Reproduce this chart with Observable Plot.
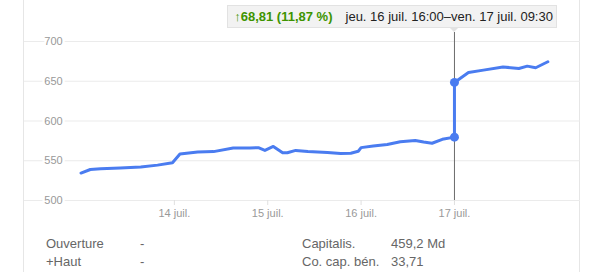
<!DOCTYPE html>
<html>
<head>
<meta charset="utf-8">
<script src="https://cdn.jsdelivr.net/npm/d3@7"></script>
<script src="https://cdn.jsdelivr.net/npm/@observablehq/plot@0.6"></script>
<style>
  html, body { margin: 0; padding: 0; background: #fff; }
  body { font-family: Arial, "Liberation Sans", sans-serif; }
  #wrap { position: relative; width: 604px; height: 272px; overflow: hidden; }
  #box { position: absolute; left: 23px; width: 555px; top: 0; height: 272px;
         border-left: 1px solid #e6e6e6; border-right: 1px solid #e6e6e6; }
  #chart { position: absolute; left: 0; top: 0; }
  #tip { position: absolute; top: 5px; height: 21px; background: #f2f2f2;
         border: 1px solid #e2e2e2; font-size: 13px; line-height: 21px; white-space: nowrap;
         box-sizing: content-box; }
  #tip .chg { color: #3d9400; font-weight: bold; }
  #tip .per { color: #222; margin-left: 13px; }
  #ptr { position: absolute; top: 27px; width: 0; height: 0;
         border-left: 5px solid transparent; border-right: 5px solid transparent;
         border-top: 5px solid #e2e2e2; }
  .cell { position: absolute; font-size: 13px; line-height: 18px; color: #666; white-space: nowrap; }
</style>
</head>
<body>
<div id="wrap">
  <div id="box"></div>
  <div id="chart"></div>
</div>
<script>
// ---- data ----
const days = [13.0, 13.10, 13.21, 13.42, 13.64, 13.82, 13.98, 14.06, 14.25, 14.42, 14.63, 14.81, 14.90, 14.97,
              15.06, 15.16, 15.21, 15.30, 15.43, 15.64, 15.78, 15.89, 15.97, 16.0, 16.13, 16.28, 16.42,
              16.58, 16.67, 16.76, 16.87, 17.0, 17.0, 17.15, 17.31, 17.52, 17.69, 17.78, 17.87, 18.0];
const prices = [534.5, 539, 540, 541, 542, 544.5, 547.5, 558.5, 561, 561.5, 566, 566, 566.5, 563,
                568, 560, 560, 563, 561.5, 560.5, 559, 559.5, 562, 566.5, 568.5, 570.5, 574,
                575.5, 573.5, 572, 577, 579.7, 648.5, 661, 664, 668, 666, 669, 667, 674.5];
const xTicks = [14, 15, 16, 17];
const xTickLabels = ["14 juil.", "15 juil.", "16 juil.", "17 juil."];
const yTicks = [500, 550, 600, 650, 700];
const hoverDay = 17;
const tipChange = "\u219168,81 (11,87 %)";
const tipPeriod = "jeu. 16 juil. 16:00\u2013ven. 17 juil. 09:30";
const statLabels1 = ["Ouverture", "+Haut"];
const statValues1 = ["-", "-"];
const statLabels2 = ["Capitalis.", "Co. cap. b\u00e9n."];
const statValues2 = ["459,2 Md", "33,71"];

const series = days.map((d, i) => ({day: d, price: prices[i]}));
const hoverPts = series.filter(d => d.day === hoverDay);

const blue = "#4a7cf0";

const plot = Plot.plot({
  width: 604,
  height: 230,
  marginLeft: 24,
  marginRight: 24,
  marginTop: 32,
  marginBottom: 30,
  style: {fontFamily: 'Arial, "Liberation Sans", sans-serif', background: "transparent"},
  x: {type: "linear", domain: [12.395, 18.35], label: null},
  y: {type: "linear", domain: [500, 711.3], label: null},
  marks: [
    Plot.ruleY(yTicks, {stroke: "#ebebeb", strokeWidth: 1}),
    Plot.axisX({ticks: xTicks, tickFormat: d => xTickLabels[xTicks.indexOf(d)], tickSize: 5,
                tickPadding: 4, stroke: "#e0e0e0", fill: "#999", fontSize: 11, label: null}),
    Plot.axisY({ticks: [], label: null}),
    Plot.text(yTicks, {y: d => d, text: d => String(d), frameAnchor: "left", dx: 29,
                       textAnchor: "middle", fill: "#999", stroke: "white", strokeWidth: 5,
                       fontSize: 11}),
    Plot.ruleX([hoverDay], {stroke: "#6b6b6b", strokeWidth: 1}),
    Plot.line(series, {x: "day", y: "price", stroke: blue, strokeWidth: 3,
                       strokeLinejoin: "round", strokeLinecap: "round"}),
    Plot.dot(hoverPts, {x: "day", y: "price", r: 4.5, fill: blue, stroke: "none"})
  ]
});
document.getElementById("chart").appendChild(plot);

// tooltip
const wrap = document.getElementById("wrap");
const hx = plot.scale("x").apply(hoverDay);
const tip = document.createElement("div");
tip.id = "tip";
tip.innerHTML = `<span class="chg"></span><span class="per"></span>`;
tip.querySelector(".chg").textContent = tipChange;
tip.querySelector(".per").textContent = tipPeriod;
tip.style.paddingLeft = "6px";
tip.style.paddingRight = "3px";
wrap.appendChild(tip);
const tw = tip.getBoundingClientRect().width;
tip.style.left = (hx + 103 - tw) + "px";
const ptr = document.createElement("div");
ptr.id = "ptr";
ptr.style.left = (hx - 5) + "px";
wrap.appendChild(ptr);

// stats table
function addCell(text, left, top) {
  const el = document.createElement("div");
  el.className = "cell";
  el.textContent = text;
  el.style.left = left + "px";
  el.style.top = top + "px";
  wrap.appendChild(el);
}
const rowTops = [235, 253];
statLabels1.forEach((t, i) => addCell(t, 46, rowTops[i]));
statValues1.forEach((t, i) => addCell(t, 140, rowTops[i]));
statLabels2.forEach((t, i) => addCell(t, 302, rowTops[i]));
statValues2.forEach((t, i) => addCell(t, 391, rowTops[i]));
</script>
</body>
</html>
